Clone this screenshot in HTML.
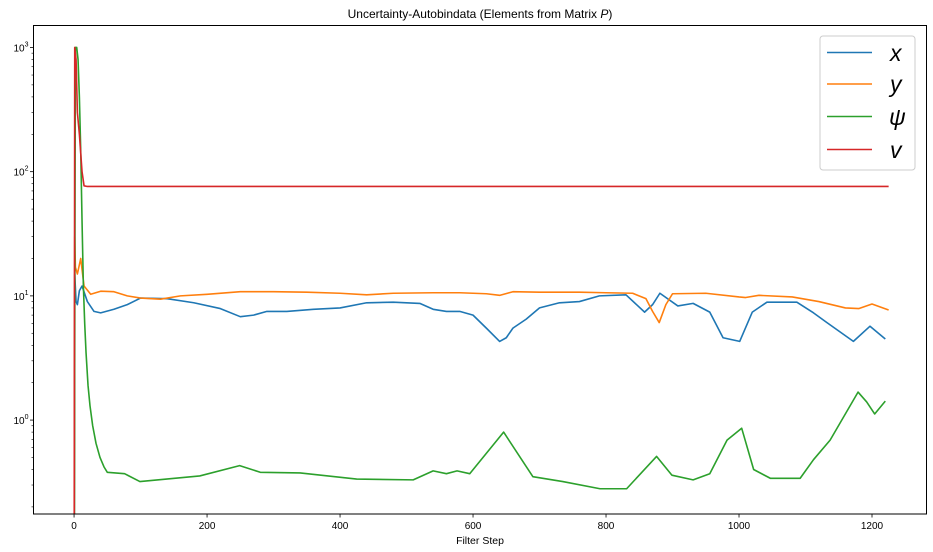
<!DOCTYPE html>
<html><head><meta charset="utf-8"><style>
html,body{margin:0;background:#fff;width:933px;height:552px;overflow:hidden;}
svg{display:block;font-family:"Liberation Sans","DejaVu Sans",sans-serif;}
</style></head><body>
<svg id="chart" width="933" height="552" xmlns="http://www.w3.org/2000/svg">
<text x="480" y="18" text-anchor="middle" font-size="12">Uncertainty-Autobindata (Elements from Matrix <tspan font-style="italic">P</tspan>)</text>
<text x="480" y="544" text-anchor="middle" font-size="10.5">Filter Step</text>
<g id="plot"></g>
<rect x="33.5" y="25.5" width="893" height="488.5" fill="none" stroke="#000" stroke-width="1"/>
<g>
<rect x="820" y="36" width="95" height="134" rx="3" fill="#fff" fill-opacity="0.85" stroke="#ccc"/>
<line x1="827" y1="52.5" x2="872" y2="52.5" stroke="#1f77b4" stroke-width="1.6"/>
<text x="890" y="61" font-size="23" font-style="italic">x</text>
<line x1="827" y1="84" x2="872" y2="84" stroke="#ff7f0e" stroke-width="1.6"/>
<text x="890" y="92" font-size="23" font-style="italic">y</text>
<line x1="827" y1="116.5" x2="872" y2="116.5" stroke="#2ca02c" stroke-width="1.6"/>
<text x="889" y="125" font-size="23" font-style="italic">ψ</text>
<line x1="827" y1="149.5" x2="872" y2="149.5" stroke="#d62728" stroke-width="1.6"/>
<text x="890" y="158" font-size="23" font-style="italic">v</text>
</g>
</svg>
<script>
const xTicks=[0,200,400,600,800,1000,1200];
const yDecades=[0,1,2,3];
const stepsX=[0,1,3,5,8,12,20,30,40,60,80,100,140,180,220,250,270,290,320,360,400,440,480,520,540,560,580,600,620,640,650,660,680,700,730,760,790,830,858,870,881,908,931,956,976,1001,1020,1042,1087,1112,1132,1172,1197,1220];
const valuesX=[0.01,15,9,8.5,11,12,9,7.5,7.3,7.8,8.5,9.6,9.5,8.8,7.9,6.8,7.0,7.5,7.5,7.8,8.0,8.8,8.9,8.7,7.8,7.5,7.5,7.0,5.5,4.3,4.6,5.5,6.5,8.0,8.8,9.0,10,10.2,7.4,8.5,10.5,8.3,8.7,7.4,4.6,4.3,7.4,8.9,8.9,7.3,6.1,4.3,5.7,4.5];
const stepsY=[0,1,2,5,10,15,25,40,60,80,100,130,160,200,250,300,350,400,440,480,540,580,620,640,660,700,760,800,840,860,870,880,890,900,950,1000,1010,1030,1080,1120,1160,1180,1200,1225];
const valuesY=[0.01,30,17,15,20,12,10.3,10.9,10.8,10,9.6,9.4,10,10.3,10.8,10.8,10.7,10.5,10.2,10.5,10.6,10.6,10.4,10.1,10.8,10.7,10.7,10.6,10.5,9.5,7.5,6.1,8.5,10.4,10.5,9.8,9.7,10.1,9.8,9.0,8.0,7.9,8.6,7.7];
const stepsPsi=[0,2,4,6,8,10,12,14,16,18,21,24,28,33,39,45,50,76,99,189,249,280,340,425,510,540,560,576,595,646,690,735,791,831,876,899,931,956,982,1004,1022,1047,1092,1112,1137,1179,1192,1204,1220];
const valuesPsi=[0.01,1000,1000,800,400,150,40,12,6,3.5,1.9,1.3,0.9,0.65,0.5,0.42,0.38,0.37,0.32,0.355,0.43,0.38,0.375,0.335,0.33,0.39,0.37,0.39,0.37,0.80,0.35,0.32,0.28,0.28,0.51,0.36,0.33,0.37,0.69,0.86,0.40,0.34,0.34,0.48,0.69,1.68,1.4,1.12,1.42];
const stepsV=[0,1,3,5,8,12,15,20,1225];
const valuesV=[0.01,1000,800,300,200,100,77,76,76];

const L=33.5,R=926.5,T=25.5,B=514;
const xMin=-61,xMax=(926.5-74)/0.665;
const lgMin=(420-514)/124.3, lgMax=3+(47.5-25.5)/124.3;
function xs(s){return L+(s-xMin)/(xMax-xMin)*(R-L);}
function ys(v){const lv=Math.log10(v);return B-(lv-lgMin)/(lgMax-lgMin)*(B-T);}
const NS='http://www.w3.org/2000/svg';
const plot=document.getElementById('plot');
const svg=document.getElementById('chart');
function mk(tag,attrs,parent){const e=document.createElementNS(NS,tag);for(const k in attrs)e.setAttribute(k,attrs[k]);(parent||svg).appendChild(e);return e;}
const clip=mk('clipPath',{id:'clp'});mk('rect',{x:L,y:T,width:R-L,height:B-T},clip);
plot.setAttribute('clip-path','url(#clp)');
function series(st,vals,color,name){
  const d=st.map((s,i)=>(i?'L':'M')+xs(s).toFixed(2)+' '+ys(vals[i]).toFixed(2)).join(' ');
  const p=mk('path',{d:d,fill:'none',stroke:color,'stroke-width':1.6,'stroke-linejoin':'round'},plot);
  
  
}
series(stepsX,valuesX,'#1f77b4','series-x');
series(stepsY,valuesY,'#ff7f0e','series-y');
series(stepsPsi,valuesPsi,'#2ca02c','series-psi');
series(stepsV,valuesV,'#d62728','series-v');
xTicks.forEach(t=>{
  const x=xs(t);
  const l=mk('line',{x1:x,y1:B,x2:x,y2:B+3.5,stroke:'#000','stroke-width':0.8});
  
  
  const tx=mk('text',{x:x,y:B+15,'text-anchor':'middle','font-size':10});
  tx.textContent=t;
  
  
});
yDecades.forEach(d=>{
  const y=ys(Math.pow(10,d));
  const l=mk('line',{x1:L-3.5,y1:y,x2:L,y2:y,stroke:'#000','stroke-width':0.8});
  
  
  const tx=mk('text',{x:L-5,y:y+4,'text-anchor':'end','font-size':10});
  tx.innerHTML='10<tspan dy="-5" font-size="7">'+d+'</tspan>';
  
  
});
for(let d=-1;d<=3;d++){for(let m=2;m<=9;m++){const v=m*Math.pow(10,d);const y=ys(v);if(y<T||y>B)continue;
  const l=mk('line',{x1:L-2,y1:y,x2:L,y2:y,stroke:'#000','stroke-width':0.6});
  
  
}}
</script>
</body></html>
